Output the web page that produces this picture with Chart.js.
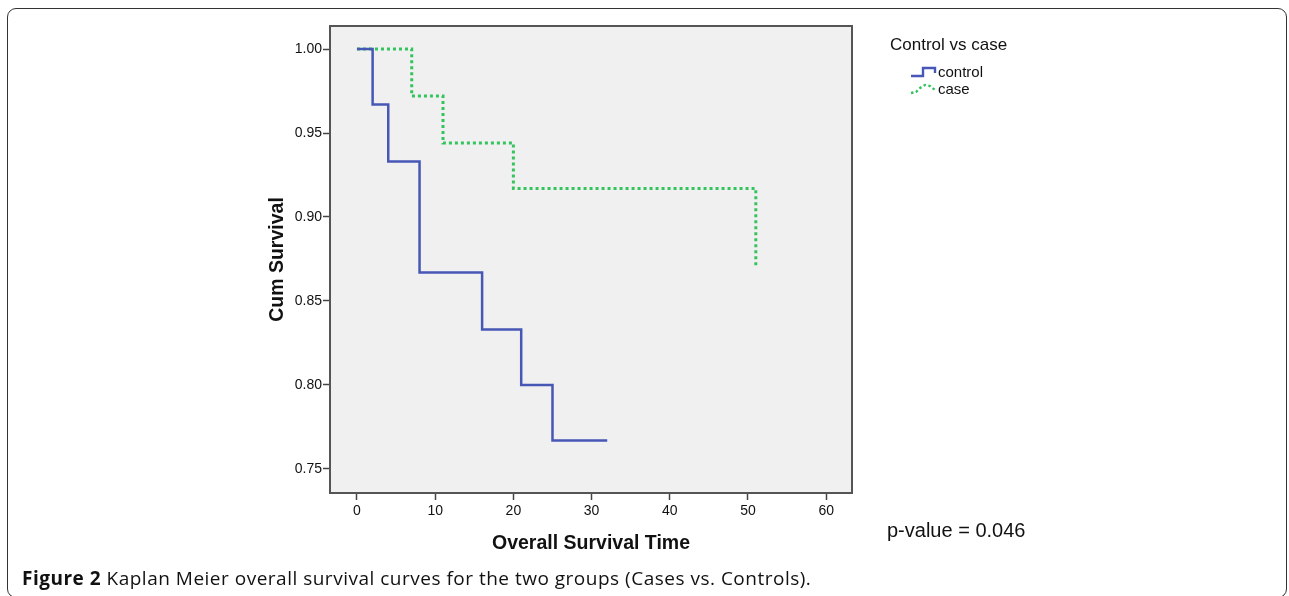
<!DOCTYPE html>
<html>
<head>
<meta charset="utf-8">
<script src="https://cdn.jsdelivr.net/npm/chart.js@4.4.0/dist/chart.umd.min.js"></script>
<style>
    body { margin: 0; background: #fff; }
    #wrap { position: relative; width: 1289px; height: 596px; overflow: hidden; }
    #frame { position: absolute; left: 7px; top: 8px; width: 1280px; height: 590px; border: 1.5px solid #333; border-radius: 9px; box-sizing: border-box; }
    canvas { position: absolute; left: 0; top: 0; }
    .lbl { position: absolute; font-family: "Liberation Sans", Arial, sans-serif; color: #111; white-space: nowrap; }
    #legendTitle { left: 890px; top: 35px; font-size: 17px; }
    #legend { left: 910px; top: 63px; font-size: 15px; line-height: 17px; }
    #legend div { display: flex; align-items: center; height: 17px; }
    #legend svg { margin-right: 1px; }
    #pvalue { left: 887px; top: 519px; font-size: 20px; }
    #caption { position: absolute; left: 22px; top: 565px; font-family: "Open Sans", sans-serif; font-size: 19px; letter-spacing: 0.5px; color: #111; white-space: nowrap; }
</style>
</head>
<body>
<div id="wrap">
    <div id="frame"></div>
    <canvas id="kmChart" width="1289" height="596"></canvas>
    <div class="lbl" id="legendTitle">Control vs case</div>
    <div class="lbl" id="legend"></div>
    <div class="lbl" id="pvalue">p-value = 0.046</div>
    <div id="caption"><b>Figure 2</b> Kaplan Meier overall survival curves for the two groups (Cases vs. Controls).</div>
</div>
<script>
// survival times (x) and cumulative survival (y)
const controlTime = [0, 2, 4, 8, 16, 21, 25, 32];
const controlSurv = [1.000, 0.967, 0.933, 0.867, 0.833, 0.800, 0.767, 0.767];
const caseTime = [0, 7, 11, 20, 51];
const caseSurv = [1.000, 0.972, 0.944, 0.917, 0.870];

const xTicks = [0, 10, 20, 30, 40, 50, 60];
const yTicks = [0.75, 0.80, 0.85, 0.90, 0.95, 1.00];

function toPoints(xs, ys) {
    return xs.map((x, i) => ({ x: x, y: ys[i] }));
}

// grey plot background and the box around it
const plotFrame = {
    id: 'plotFrame',
    beforeDraw(chart) {
        const a = chart.chartArea;
        const c = chart.ctx;
        c.save();
        c.fillStyle = '#f0f0f0';
        c.fillRect(a.left, a.top, a.right - a.left, a.bottom - a.top);
        c.restore();
    },
    afterDraw(chart) {
        const a = chart.chartArea;
        const c = chart.ctx;
        c.save();
        c.strokeStyle = '#555';
        c.lineWidth = 2;
        c.strokeRect(a.left, a.top, a.right - a.left, a.bottom - a.top);
        c.restore();
    }
};

const tickFont = { family: '"Liberation Sans", Arial, sans-serif', size: 14 };
const titleFont = { family: '"Liberation Sans", Arial, sans-serif', size: 19.5, weight: 'bold' };

const ctx = document.getElementById('kmChart').getContext('2d');
const kmChart = new Chart(ctx, {
    type: 'scatter',
    data: {
        datasets: [
            {
                label: 'control',
                data: toPoints(controlTime, controlSurv),
                showLine: true,
                stepped: 'before',
                borderColor: '#4657b6',
                borderWidth: 2.5,
                pointRadius: 0,
                fill: false
            },
            {
                label: 'case',
                data: toPoints(caseTime, caseSurv),
                showLine: true,
                stepped: 'before',
                borderColor: '#33c45e',
                borderWidth: 3,
                borderDash: [3, 3],
                pointRadius: 0,
                fill: false
            }
        ]
    },
    options: {
        responsive: false,
        animation: false,
        layout: {
            padding: { left: 266, right: 437, top: 26, bottom: 41 }
        },
        plugins: {
            legend: { display: false },
            tooltip: { enabled: false }
        },
        scales: {
            x: {
                type: 'linear',
                min: -3.45,
                max: 63.3,
                afterBuildTicks: (scale) => { scale.ticks = xTicks.map(v => ({ value: v })); },
                afterFit: (scale) => { scale.height = 62; },
                ticks: {
                    font: tickFont,
                    color: '#111',
                    padding: 3,
                    maxRotation: 0,
                    callback: (v) => String(v)
                },
                grid: {
                    drawOnChartArea: false,
                    drawTicks: true,
                    tickLength: 7,
                    tickColor: '#444',
                    tickWidth: 1.5
                },
                border: { display: false },
                title: {
                    display: true,
                    text: 'Overall Survival Time',
                    font: titleFont,
                    color: '#111',
                    padding: 0
                }
            },
            y: {
                type: 'linear',
                min: 0.7357,
                max: 1.0137,
                afterBuildTicks: (scale) => { scale.ticks = yTicks.map(v => ({ value: v })); },
                afterFit: (scale) => { scale.width = 64; },
                ticks: {
                    font: tickFont,
                    color: '#111',
                    padding: 1,
                    callback: (v) => Number(v).toFixed(2)
                },
                grid: {
                    drawOnChartArea: false,
                    drawTicks: true,
                    tickLength: 7,
                    tickColor: '#444',
                    tickWidth: 1.5
                },
                border: { display: false },
                title: {
                    display: true,
                    text: 'Cum Survival',
                    font: titleFont,
                    color: '#111',
                    padding: 0
                }
            }
        }
    },
    plugins: [plotFrame]
});

// legend built from the chart's datasets
const legendIcons = {
    control: '1,11 13,11 13,3 25,3 25,8',
    case: '1,11 6,10 10,6 15,3 20,4 25,8'
};
const legendBox = document.getElementById('legend');
kmChart.data.datasets.forEach(ds => {
    const row = document.createElement('div');
    const dash = ds.borderDash ? ' stroke-dasharray="2.5 2.5"' : '';
    row.innerHTML = '<svg width="27" height="13"><polyline points="' + legendIcons[ds.label] +
        '" fill="none" stroke="' + ds.borderColor + '" stroke-width="2.4"' + dash + '/></svg><span>' + ds.label + '</span>';
    legendBox.appendChild(row);
});
</script>
</body>
</html>
